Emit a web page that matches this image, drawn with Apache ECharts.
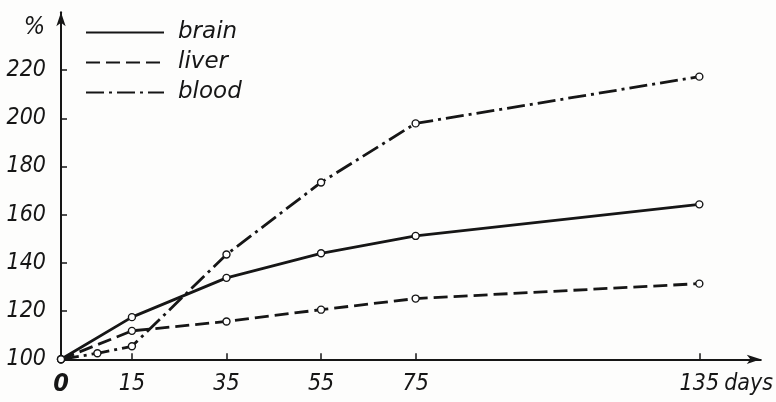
<!DOCTYPE html>
<html>
<head>
<meta charset="utf-8">
<script src="https://cdn.jsdelivr.net/npm/echarts@6/dist/echarts.min.js"></script>
<style>html,body{margin:0;padding:0;background:#fdfdfc;}#c{width:776px;height:402px;}</style>
</head>
<body>
<div id="c"></div>
<script>
const seriesNames = ['brain', 'liver', 'blood'];
const brain = [[0, 100], [15, 117.5], [35, 133.8], [55, 144], [75, 151.2], [135, 164.3]];
const liver = [[0, 100], [15, 111.8], [35, 115.7], [55, 120.6], [75, 125.2], [135, 131.4]];
const blood = [[0, 100], [7.7, 102.5], [15, 105.4], [35, 143.5], [55, 173.4], [75, 197.9], [135, 217.3]];
const xTicks = [15, 35, 55, 75, 135];
const xLabels = [0, 15, 35, 55, 75, 135];
const yTicks = [120, 140, 160, 180, 200, 220];
const yLabels = [100, 120, 140, 160, 180, 200, 220];

const numFont = '"DejaVu Sans Condensed", "Liberation Sans", sans-serif';
const ink = '#161616';

const chart = echarts.init(document.getElementById('c'), null, {renderer: 'canvas'});
function mk(name, data, type, width) {
  return {
    name: name, type: 'line', data: data,
    symbol: 'circle', symbolSize: 7,
    itemStyle: {color: '#ffffff', borderColor: ink, borderWidth: 1.4},
    lineStyle: {color: ink, width: width, type: type},
    emphasis: {disabled: true}, animation: false, z: 3
  };
}
chart.setOption({
  backgroundColor: '#fdfdfc',
  animation: false,
  grid: {left: 61, right: 12.4, top: 12.3, bottom: 42.7},
  legend: {
    orient: 'vertical', left: 85, top: 21, padding: 0,
    itemWidth: 78, itemHeight: 20, itemGap: 7,
    data: seriesNames,
    itemStyle: {color: 'transparent', borderColor: 'transparent', borderWidth: 0},
    textStyle: {fontFamily: '"DejaVu Sans", sans-serif', fontStyle: 'italic', fontSize: 23, color: ink, padding: [0, 0, 0, 9], lineHeight: 20}
  },
  xAxis: {
    type: 'value', min: 0, max: 148,
    splitLine: {show: false},
    axisLine: {lineStyle: {color: ink, width: 2}, symbol: ['none', 'arrow'], symbolSize: [7, 14]},
    axisTick: {inside: true, length: 6, lineStyle: {color: ink, width: 1.5}, customValues: xTicks},
    axisLabel: {
      customValues: xLabels, margin: 13,
      fontFamily: numFont, fontStyle: 'italic', fontSize: 23, color: ink,
      formatter: function (v) {
        if (v === 0) return '{z|0}';
        if (v === 135) return '{sp|}{n|135}{d|days}';
        return '{n|' + v + '}';
      },
      rich: {
        z: {fontFamily: numFont, fontStyle: 'italic', fontWeight: 'bold', fontSize: 25, color: ink},
        n: {fontFamily: numFont, fontStyle: 'italic', fontSize: 23, color: ink},
        sp: {width: 52},
        d: {fontFamily: numFont, fontStyle: 'italic', fontSize: 23, color: ink, width: 45, align: 'left', padding: [0, 0, 0, 7]}
      }
    }
  },
  yAxis: {
    type: 'value', min: 100, max: 244,
    name: '%', nameLocation: 'end', nameGap: -15,
    nameTextStyle: {fontFamily: numFont, fontStyle: 'italic', fontSize: 25, color: ink, align: 'right', verticalAlign: 'middle', padding: [0, 16, 0, 0]},
    splitLine: {show: false},
    axisLine: {lineStyle: {color: ink, width: 2}, symbol: ['none', 'arrow'], symbolSize: [7, 14]},
    axisTick: {inside: true, length: 6, lineStyle: {color: ink, width: 1.5}, customValues: yTicks},
    axisLabel: {customValues: yLabels, margin: 15, fontFamily: numFont, fontStyle: 'italic', fontSize: 23, color: ink}
  },
  series: [
    mk('brain', brain, 'solid', 2.8),
    mk('liver', liver, [14, 6], 2.8),
    mk('blood', blood, [18, 5, 3, 5], 2.8)
  ]
});
</script>
</body>
</html>
